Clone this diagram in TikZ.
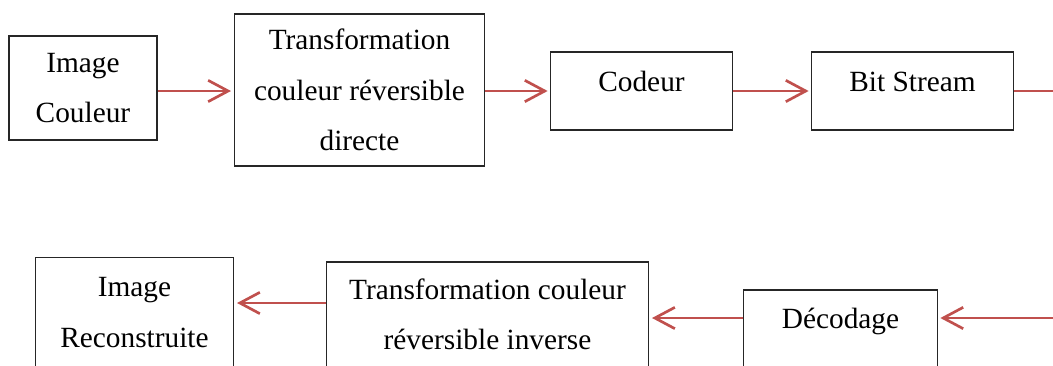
\documentclass[tikz,border=0pt]{standalone}
\usepackage{fontspec}
\setmainfont{Liberation Serif}
\usetikzlibrary{arrows.meta}
\definecolor{rouge}{RGB}{192,80,77}

\begin{document}
\begin{tikzpicture}[x=0.75pt, y=-0.75pt,
        bloc/.style={draw=black!85, line width=0.8pt, align=center, inner sep=0pt,
            font=\fontsize{22}{38}\selectfont},
        fleche/.style={draw=rouge, line width=2pt, -{Straight Barb[length=15pt,width=16pt]}, shorten >=2pt},
        trait/.style={draw=rouge, line width=2pt}]
        \useasboundingbox (0,0) rectangle (1053,365);
        \clip (0,0) rectangle (1053,365);

        % Codage
        \node[bloc, minimum width=111pt, minimum height=78pt] (couleur) at (83,88) {Image\\Couleur};
        \node[bloc, minimum width=188pt, minimum height=114pt] (directe) at (359.5,90) {Transformation\\couleur réversible\\directe};
        \node[bloc, minimum width=136pt, minimum height=58.5pt, text height=15pt, text depth=15pt] (codeur) at (641.5,91) {Codeur};
        \node[bloc, minimum width=151pt, minimum height=58.5pt, text height=15pt, text depth=15pt] (bitstream) at (912.5,91) {Bit Stream};
        \coordinate (sortie) at (1060,91);

        % Decodage
        \node[bloc, minimum width=149pt, minimum height=94pt, text depth=12pt] (reconstruite) at (134.5,320.5) {Image\\Reconstruite};
        \node[bloc, minimum width=242pt, minimum height=90pt, text depth=12pt] (inverse) at (487.5,322) {Transformation couleur\\réversible inverse};
        \node[bloc, minimum width=145pt, minimum height=72pt, text height=15pt, text depth=30pt] (decodage) at (840.5,338) {Décodage};
        \coordinate (entree) at (1060,318);
        \coordinate (retour) at (300,303);

        % Fleches
        \draw[fleche] (couleur.east |- codeur) -- (directe.west |- codeur);
        \draw[fleche] (directe.east |- codeur) -- (codeur.west);
        \draw[fleche] (codeur.east) -- (bitstream.west);
        \draw[trait] (bitstream.east) -- (sortie);
        \draw[fleche] (entree) -- (entree -| decodage.east);
        \draw[fleche] (entree -| decodage.west) -- (entree -| inverse.east);
        \draw[fleche] (retour -| inverse.west) -- (retour -| reconstruite.east);

    \end{tikzpicture}
\end{document}
